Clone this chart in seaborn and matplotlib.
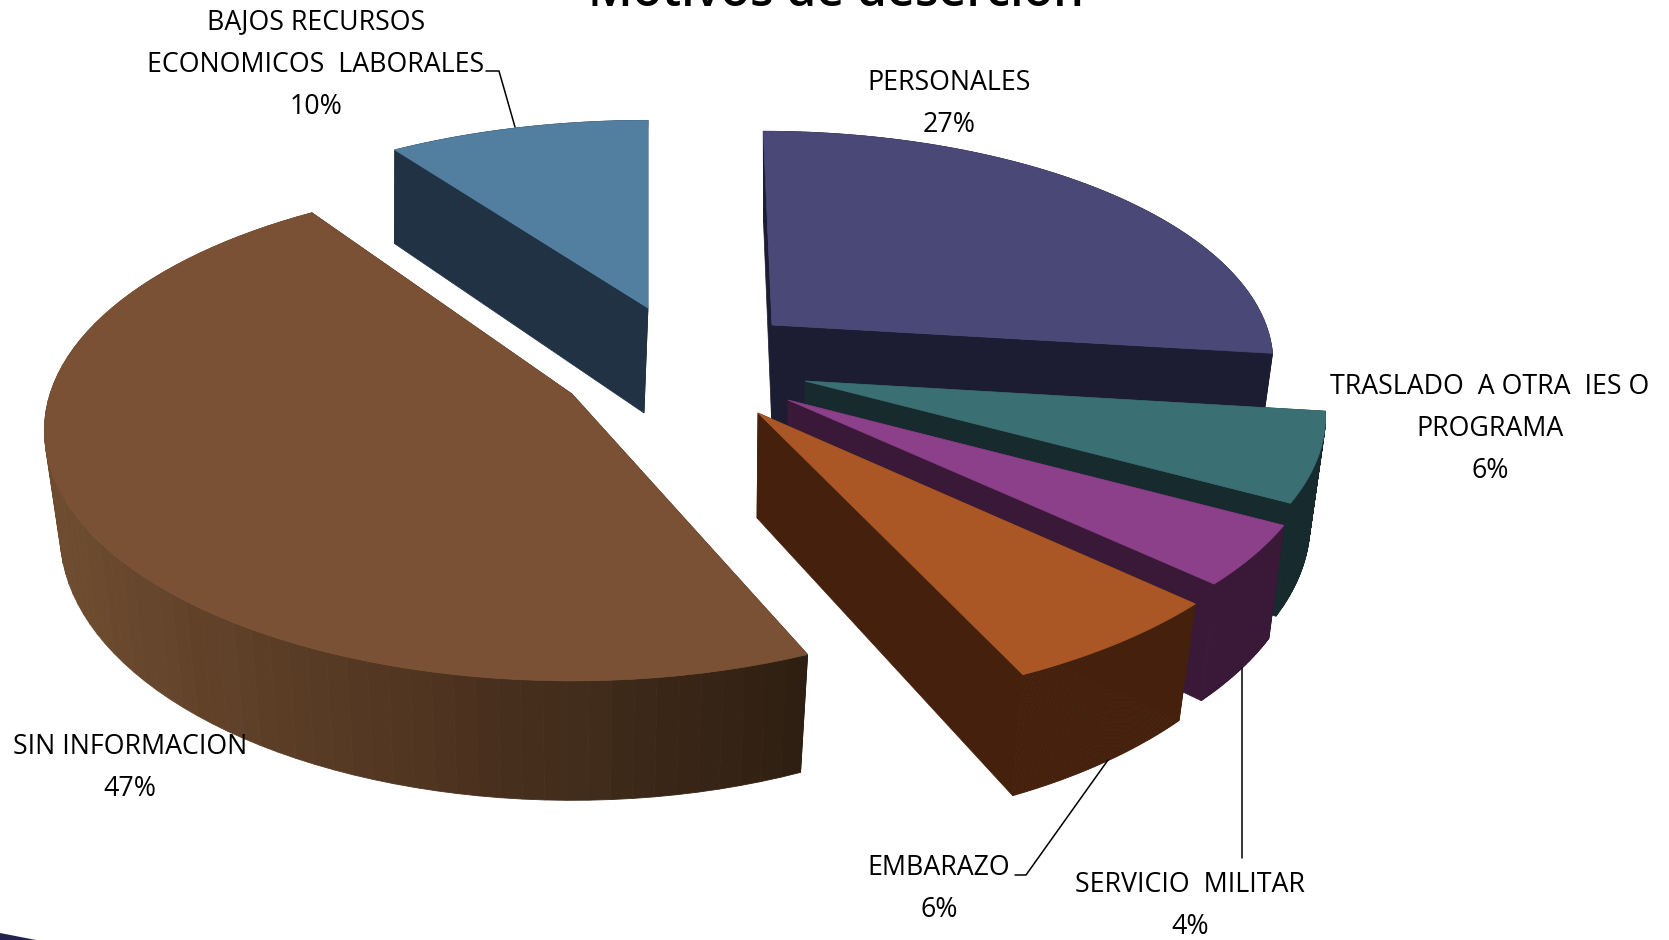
import numpy as np
import seaborn as sns
import matplotlib.pyplot as plt

# Datos (en orden de las agujas del reloj, desde arriba)
motivos = ['PERSONALES', 'TRASLADO', 'SERVICIO', 'EMBARAZO', 'SIN INFORMACION', 'BAJOS RECURSOS']
valores = [27.0, 6.0, 4.0, 6.0, 47.4, 9.6]

etiquetas = ['PERSONALES\n27%',
             'TRASLADO  A OTRA  IES O\nPROGRAMA\n6%',
             'SERVICIO  MILITAR\n4%',
             'EMBARAZO\n6%',
             'SIN INFORMACION\n47%',
             'BAJOS RECURSOS\nECONOMICOS  LABORALES\n10%']

# Colores cara superior / pared
color_top = ['#4A4877', '#3A7074', '#8B4089', '#AA5725', '#7B5135', '#527F9F']
color_wall = ['#1C1C33', '#172B2F', '#391838', '#45210D', None, '#203243']
sombra = sns.blend_palette(['#6E4C30', '#4F3420', '#2E1F12'], 40)

# Layout de cada porcion (apice en pixeles, radios, inclinacion)
apice = [(772, 325), (805, 381), (788, 400), (758, 413), (572, 394), (648, 308)]
radio_x = [494, 515, 526, 540, 522, 500]
radio_y = [222, 236, 242, 251, 245, 215]
inclina = [0.045, 0, 0, 0, 0, 0]
recorte = [0, 0, 0, 0, 2.2, 0]       # grados que se quitan al inicio del corte
recorte_fin = [0, 0, 0, 0, -0.6, 0]  # y al final
encoge = [0.97, 0.97, 0.97, 0.965, 0.97, 0.985]  # la cara de abajo se ve mas chica
desvio = [0, 0, 0, -1, 0, -4]
alto = [105, 105, 105, 105, 102, 105]  # grosor del pastel
pos_etiqueta = [(949, 104), (1490, 429), (1190, 906), (939, 889), (130, 768), (316, 65)]
orden = [5, 0, 1, 2, 3, 4]

P = 0.146      # perspectiva

sns.set_theme(style='white')
plt.rcParams['font.family'] = ['Open Sans', 'DejaVu Sans']

fig = plt.figure(figsize=(16.69, 9.40), dpi=100)
ax = fig.add_axes([0, 0, 1, 1])
ax.set_xlim(0, 1669)
ax.set_ylim(940, 0)
ax.axis('off')


def proyecta(theta, i):
    cx, cy = apice[i]
    u = np.sin(theta)
    v = -np.cos(theta)
    w = 1 - P * v
    x = cx + radio_x[i] * u / w
    y = cy + radio_y[i] * v / w
    x = x + inclina[i] * (y - cy)
    return x, y, w


def abajo(x, y, w, i):
    cx = apice[i][0]
    return cx + (x - cx) * encoge[i] + desvio[i], y + alto[i] / w


limites = np.radians(np.cumsum([0] + valores) * 3.6)

for i in orden:
    t = np.linspace(limites[i] + np.radians(recorte[i]), limites[i + 1] - np.radians(recorte_fin[i]), 80)
    x, y, w = proyecta(t, i)
    xb, yb = abajo(x, y, w, i)
    cx, cy = apice[i]
    cxb, cyb = abajo(cx, cy, 1.0, i)

    # paredes de los cortes
    pared = color_wall[i] if color_wall[i] else sombra[-1]
    for k in (0, -1):
        ax.fill([cx, x[k], xb[k], cxb], [cy, y[k], yb[k], cyb], color=pared, lw=0.5)
    # pared exterior
    for k in range(len(t) - 1):
        if color_wall[i]:
            c = color_wall[i]
        else:
            f = (x[k] - x.min()) / (x.max() - x.min())
            c = sombra[int(f * (len(sombra) - 1))]
        ax.fill([x[k], x[k + 1], xb[k + 1], xb[k]], [y[k], y[k + 1], yb[k + 1], yb[k]], color=c, lw=0.6)
    # cara superior
    ax.fill(np.r_[cx, x], np.r_[cy, y], color=color_top[i], lw=0.5)

# Lineas guia
ax.plot([486, 499, 515], [71, 71, 127], color='black', lw=1.1)
ax.plot([1015, 1026, 1108], [875, 875, 760], color='black', lw=1.1)
ax.plot([1242, 1242], [668, 858], color='black', lw=1.1)

# Etiquetas
for etiqueta, (ex, ey) in zip(etiquetas, pos_etiqueta):
    ax.text(ex, ey, etiqueta, ha='center', va='center', fontsize=19.3, color='black', linespacing=1.69)

# Titulo (cortado por el borde de arriba)
ax.text(836, 6, 'Motivos de deserción', ha='center', va='baseline', fontsize=34.8,
        fontweight='semibold', color='black')

# Resto de un adorno en la esquina
ax.fill([0, 36, 0], [933, 940, 940], color='#23234F', lw=0)

plt.savefig('out.png', dpi=100)
